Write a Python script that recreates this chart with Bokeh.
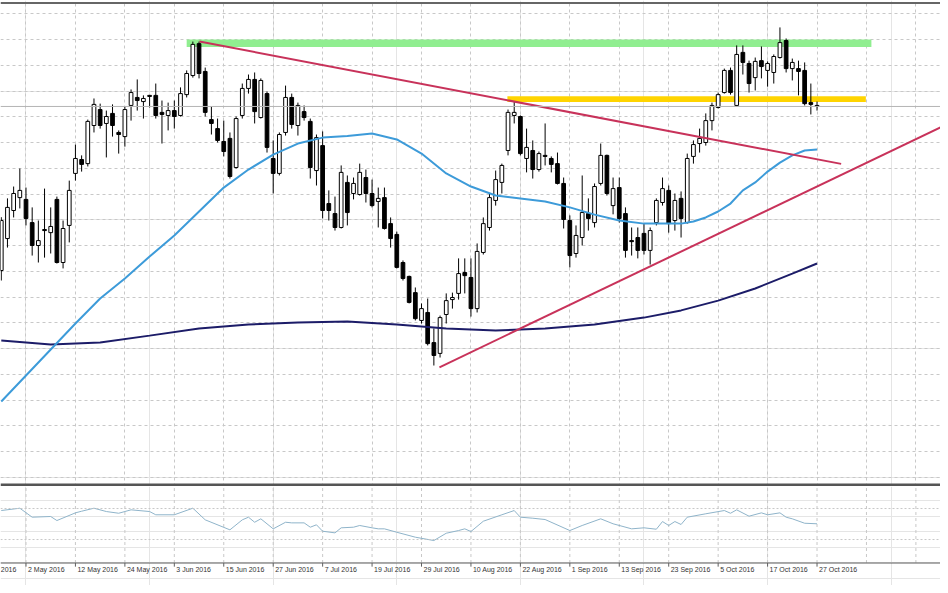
from bokeh.plotting import figure
from bokeh.models import Range1d, Grid, FixedTicker, Span, ColumnDataSource
from bokeh.layouts import column
from bokeh.embed import file_html
from bokeh.resources import INLINE
from bokeh.core.properties import value

# ---------------- data (daily bars, index 0 = 2 May 2016) ----------------
first_bar = -4
opens = [43.03, 44.27, 45.36, 45.86, 45.79, 44.89, 44.00, 44.62, 44.50, 45.79,
         43.34, 44.78, 46.80, 47.34, 47.18, 48.66, 49.28, 48.74, 49.13, 48.39,
         48.23, 49.44, 49.75, 49.59, 49.83, 49.83, 49.17, 49.05, 49.24, 49.05,
         49.86, 50.60, 51.84, 50.76, 48.89, 48.54, 48.04, 48.16, 47.03, 49.05,
         50.10, 50.45, 48.97, 49.90, 47.38, 46.80, 48.39, 49.75, 48.66, 49.20,
         48.82, 46.91, 47.88, 45.63, 45.24, 44.70, 46.45, 46.02, 45.98, 46.64,
         46.02, 45.71, 45.86, 44.85, 44.43, 43.34, 42.80, 42.17, 41.09, 41.40,
         40.23, 39.81, 41.32, 41.90, 42.14, 42.95, 42.76, 41.55, 43.73, 44.70,
         45.75, 46.45, 47.69, 49.05, 49.01, 47.38, 47.69, 46.95, 47.50, 47.38,
         47.18, 46.41, 44.97, 43.69, 44.31, 45.24, 44.89, 46.41, 47.50, 45.55,
         46.25, 45.24, 44.19, 44.31, 44.47, 43.81, 44.89, 45.67, 46.14, 44.97,
         45.83, 44.89, 47.46, 47.96, 48.00, 48.85, 49.36, 49.94, 50.80, 49.44,
         51.50, 51.07, 50.52, 51.18, 50.80, 50.72, 51.30, 51.96, 50.87, 50.87,
         50.80, 49.55, 49.44]
highs = [45.10, 45.83, 46.29, 46.99, 46.25, 45.48, 44.97, 46.21, 45.48, 45.90,
         44.97, 46.52, 47.92, 47.50, 48.89, 49.71, 49.51, 49.24, 49.48, 48.47,
         49.40, 50.06, 50.45, 49.83, 49.85, 50.29, 49.63, 49.55, 49.63, 50.14,
         50.80, 51.92, 51.92, 50.91, 49.40, 48.93, 48.85, 48.39, 49.01, 50.29,
         50.64, 50.72, 50.49, 49.98, 48.08, 48.39, 50.21, 49.90, 49.55, 49.44,
         48.93, 48.31, 48.43, 46.14, 45.90, 47.11, 46.72, 46.64, 47.18, 46.95,
         46.56, 46.25, 46.25, 45.09, 44.54, 43.42, 42.83, 42.37, 41.75, 41.94,
         40.78, 41.28, 42.14, 42.17, 43.50, 43.50, 43.50, 44.08, 45.09, 46.02,
         46.91, 47.18, 49.28, 49.59, 49.05, 48.54, 48.08, 47.65, 48.74, 47.46,
         47.61, 46.64, 45.17, 44.78, 46.72, 45.83, 46.41, 47.96, 47.53, 46.64,
         46.64, 45.48, 44.70, 44.70, 44.85, 44.70, 45.83, 46.64, 46.33, 46.02,
         46.10, 47.57, 48.08, 48.54, 49.13, 49.55, 49.94, 50.87, 50.91, 51.77,
         51.77, 51.18, 51.30, 51.73, 51.15, 51.42, 52.47, 52.04, 51.26, 51.18,
         51.11, 50.29, 49.59]
lows = [42.64, 43.92, 45.09, 45.44, 44.78, 43.61, 43.34, 43.53, 43.69, 43.30,
        43.11, 44.12, 46.52, 46.87, 47.07, 48.39, 48.54, 47.42, 48.23, 47.57,
        47.84, 48.85, 49.24, 48.93, 49.36, 48.93, 47.96, 48.47, 48.54, 49.01,
        49.75, 50.52, 50.49, 49.01, 48.31, 48.00, 47.46, 46.60, 46.99, 48.93,
        49.90, 48.74, 48.93, 47.61, 46.02, 46.72, 48.27, 48.54, 48.27, 48.85,
        46.60, 46.33, 45.05, 44.97, 44.58, 44.66, 44.78, 45.79, 45.94, 45.67,
        45.48, 44.70, 44.62, 43.92, 43.11, 42.64, 41.75, 41.09, 40.97, 40.12,
        39.34, 39.65, 40.97, 41.55, 41.90, 42.14, 41.24, 41.40, 43.65, 44.58,
        45.55, 46.02, 47.50, 48.74, 47.50, 46.84, 46.60, 46.87, 47.11, 46.84,
        46.37, 44.66, 43.15, 43.53, 44.00, 44.58, 44.70, 46.33, 45.94, 45.21,
        44.89, 43.53, 43.61, 43.50, 43.65, 43.26, 44.78, 45.55, 44.50, 44.58,
        44.31, 44.85, 47.18, 47.61, 47.88, 48.47, 49.32, 49.90, 49.86, 49.40,
        50.64, 49.94, 50.02, 50.49, 50.17, 50.29, 51.26, 50.72, 50.41, 49.83,
        49.44, 49.09, 49.24]
closes = [44.97, 45.48, 46.02, 46.14, 45.05, 44.00, 44.19, 44.58, 44.74, 43.34,
          44.66, 46.14, 47.38, 47.15, 48.82, 49.48, 48.66, 49.01, 48.66, 48.31,
          49.28, 49.94, 49.63, 49.71, 49.79, 49.05, 49.09, 49.24, 49.01, 49.90,
          50.68, 51.81, 50.68, 49.17, 48.74, 48.08, 47.65, 46.68, 48.93, 50.10,
          50.45, 49.20, 50.41, 47.81, 46.80, 48.31, 49.75, 48.70, 49.44, 48.97,
          47.03, 48.19, 45.36, 45.36, 44.70, 46.84, 45.28, 46.41, 46.84, 46.02,
          45.55, 45.83, 44.66, 44.27, 43.15, 42.72, 41.79, 41.16, 41.55, 40.19,
          39.73, 41.20, 41.86, 41.98, 42.91, 42.83, 41.55, 43.77, 44.85, 45.86,
          46.56, 47.11, 49.17, 49.17, 47.57, 47.81, 46.95, 47.57, 47.46, 47.15,
          46.41, 45.01, 43.61, 44.39, 45.28, 45.05, 46.29, 47.50, 46.02, 46.21,
          45.05, 43.81, 44.15, 43.81, 43.81, 44.58, 45.75, 46.21, 44.85, 45.75,
          45.05, 47.38, 47.92, 48.16, 48.85, 49.44, 49.86, 50.80, 49.94, 51.42,
          51.11, 50.29, 51.15, 50.95, 51.07, 51.34, 51.88, 50.87, 51.11, 50.76,
          49.51, 49.48, 49.40]

# moving averages (bar index, price)
ma_fast_idx = [-4, 0, 4, 8, 12, 16, 20, 24, 28, 32, 36, 40, 44, 48, 52, 56, 60, 64,
               68, 72, 76, 80, 84, 88, 92, 96, 100, 104, 106, 108, 110, 112, 114,
               116, 118, 120, 122, 124, 126, 128]
ma_fast = [37.94, 38.95, 39.96, 40.97, 41.94, 42.72, 43.57, 44.39, 45.32, 46.25,
           46.95, 47.53, 47.96, 48.19, 48.25, 48.35, 48.12, 47.57, 46.80, 46.29,
           45.94, 45.83, 45.71, 45.48, 45.20, 44.97, 44.85, 44.85, 44.85, 44.93,
           45.09, 45.32, 45.63, 46.14, 46.45, 46.87, 47.22, 47.50, 47.69, 47.73]
ma_slow_idx = [-4, 4, 12, 20, 28, 36, 44, 52, 60, 68, 76, 84, 92, 100, 106, 112,
               118, 124, 128]
ma_slow = [40.31, 40.16, 40.23, 40.50, 40.78, 40.93, 41.01, 41.05, 40.93, 40.78,
           40.70, 40.78, 40.93, 41.20, 41.48, 41.86, 42.33, 42.91, 43.30]

# oscillator (lower window)
osc_idx = [-4, -1, 1, 4, 5, 8, 9, 11, 13, 15, 17, 20, 21, 24, 27, 29, 33, 35, 36, 37,
           38, 40, 42, 43, 45, 46, 47, 48, 50, 51, 53, 54, 56, 57, 58, 60, 63, 66,
           68, 70, 71, 72, 74, 77, 79, 80, 82, 84, 88, 90, 93, 95, 98, 100, 102,
           103, 104, 105, 106, 107, 110, 113, 114, 115, 117, 119, 120, 122, 123,
           124, 126, 128]
osc_vals = [67.4, 70.4, 58.8, 59.7, 54.5, 64.4, 66.5, 70.4, 66.1, 63.9, 68.3, 66.1,
            61.9, 61.9, 70.4, 55.4, 42.5, 55.4, 58.8, 52.3, 56.7, 43.8, 52.3, 51.5,
            51.5, 45.9, 49.0, 40.7, 38.6, 45.1, 45.9, 48.1, 45.1, 43.8, 43.8, 39.4,
            33.0, 28.7, 38.1, 41.6, 43.8, 40.3, 53.6, 61.9, 67.4, 58.8, 57.5, 55.8,
            41.6, 48.1, 56.7, 50.3, 43.8, 45.1, 43.3, 53.2, 48.1, 53.2, 49.4, 58.8,
            63.2, 67.4, 63.9, 68.3, 60.1, 64.4, 61.9, 64.4, 58.8, 56.7, 51.0, 50.3]
osc_levels = [70, 30]

# drawn objects
green_zone_x = [26.0, 136.8]
green_zone_y = [51.71, 52.0]
yellow_zone_x = [77.9, 135.9]
yellow_zone_y = [49.57, 49.80]
down_line_x = [28.07, 131.9]
down_line_y = [51.92, 47.17]
up_line_x = [66.9, 148.0]
up_line_y = [39.27, 48.59]

# time axis
tick_idx = [-8, 0, 8, 16, 24, 32, 40, 48, 56, 64, 72, 80, 88, 96, 104, 112, 120, 128]
tick_labels = ["20 Apr 2016", "2 May 2016", "12 May 2016", "24 May 2016", "3 Jun 2016",
               "15 Jun 2016", "27 Jun 2016", "7 Jul 2016", "19 Jul 2016", "29 Jul 2016",
               "10 Aug 2016", "22 Aug 2016", "1 Sep 2016", "13 Sep 2016", "23 Sep 2016",
               "5 Oct 2016", "17 Oct 2016", "27 Oct 2016"]
grid_idx = list(range(-8, 153, 8))
price_levels = list(range(35, 54))

# ---------------- styling ----------------
W = 940
GRID = "#c8c8c8"
x_rng = Range1d(-4.126, 147.98)

p1 = figure(width=W, height=486, x_range=x_rng, y_range=Range1d(34.641, 53.515),
            output_backend="svg", toolbar_location=None,
            x_axis_location=None, y_axis_location=None, min_border=0,
            outline_line_color=None, background_fill_color="white",
            border_fill_color="white")
p1.add_layout(Grid(dimension=0, ticker=FixedTicker(ticks=grid_idx),
                   grid_line_color=GRID, grid_line_dash="3 3"))
p1.add_layout(Grid(dimension=1, ticker=FixedTicker(ticks=price_levels),
                   grid_line_color=GRID, grid_line_dash="3 3"))

p1.quad(left=[green_zone_x[0]], right=[green_zone_x[1]], bottom=[green_zone_y[0]],
        top=[green_zone_y[1]], fill_color="#90ee90", line_color=None)
p1.quad(left=[yellow_zone_x[0]], right=[yellow_zone_x[1]], bottom=[yellow_zone_y[0]],
        top=[yellow_zone_y[1]], fill_color="#ffd400", line_color=None)

p1.add_layout(Span(location=closes[-1], dimension="width", line_color="#b4b4b4",
                   line_width=1))

bars = list(range(first_bar, first_bar + len(opens)))
src = ColumnDataSource(dict(
    x=bars, h=highs, l=lows,
    top=[max(o, c) for o, c in zip(opens, closes)],
    bottom=[min(o, c) for o, c in zip(opens, closes)],
    fill=["white" if c >= o else "black" for o, c in zip(opens, closes)],
))
p1.segment(x0="x", y0="h", x1="x", y1="l", source=src, line_color="black", line_width=1)
p1.vbar(x="x", width=0.6, top="top", bottom="bottom", fill_color="fill",
        line_color="black", line_width=1, source=src)

p1.line(ma_slow_idx, ma_slow, line_color="#1c1c68", line_width=2)
p1.line(ma_fast_idx, ma_fast, line_color="#3d9bd9", line_width=2)
p1.line(down_line_x, down_line_y, line_color="#c8325a", line_width=2)
p1.line(up_line_x, up_line_y, line_color="#c8325a", line_width=2)

# window frame lines
p1.add_layout(Span(location=53.417, dimension="width", line_color="#666666",
                   line_width=2))
p1.add_layout(Span(location=34.70, dimension="width", line_color="#555555",
                   line_width=3))

# lower window + time axis (drawn inside its frame)
p2 = figure(width=W, height=99, x_range=x_rng, y_range=Range1d(-29.3, 98.4),
            output_backend="svg", toolbar_location=None,
            x_axis_location=None, y_axis_location=None, min_border=0,
            outline_line_color=None, background_fill_color="white",
            border_fill_color="white")
AX = -0.3
p2.segment(x0=grid_idx, y0=[AX] * len(grid_idx), x1=grid_idx, y1=[98.4] * len(grid_idx),
           line_color=GRID, line_dash="3 3")
for lv in osc_levels:
    p2.add_layout(Span(location=lv, dimension="width", line_color=GRID,
                       line_dash="2 2"))
p2.line(osc_idx, osc_vals, line_color="#8fb4ca", line_width=1)
p2.add_layout(Span(location=AX, dimension="width", line_color="#606060", line_width=1))
p2.segment(x0=tick_idx, y0=[AX] * len(tick_idx), x1=tick_idx, y1=[-5.0] * len(tick_idx),
           line_color="#606060")
p2.text(x=tick_idx, y=[-8.7] * len(tick_idx), text=tick_labels,
        text_font=value("Liberation Sans"), text_font_size="7px",
        text_align="left", text_baseline="middle", x_offset=2, text_color="#333333")

layout = column(p1, p2)
open("out.html", "w").write(file_html(layout, INLINE))
